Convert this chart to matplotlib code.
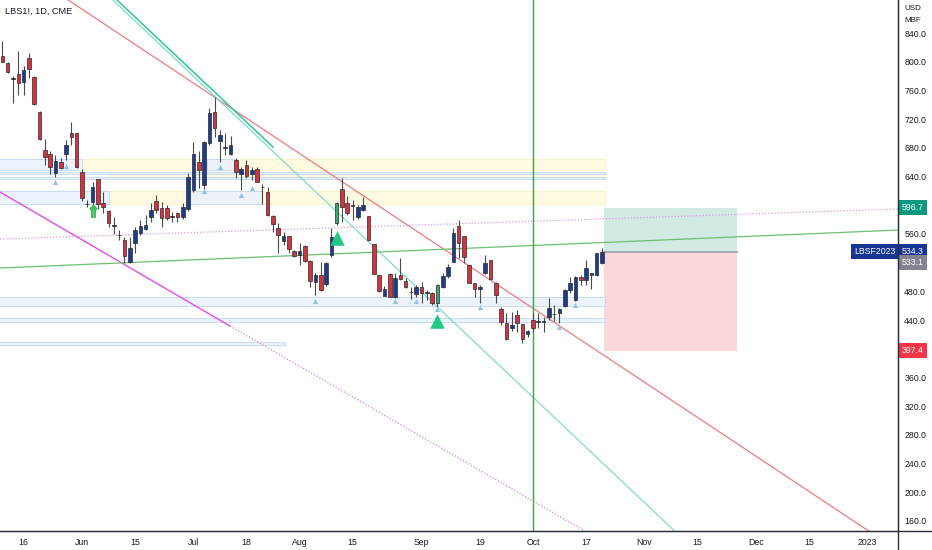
import matplotlib
matplotlib.use("Agg")
import matplotlib.pyplot as plt
from matplotlib.lines import Line2D
from matplotlib.patches import Rectangle
import numpy as np
import pandas as pd

plt.rcParams['font.family'] = ['Liberation Sans', 'DejaVu Sans']

# Daily bars LBS1! (CME lumber), 10 May 2022 .. 20 Oct 2022
opens = [808, 797.7, 777, 783, 772, 805.2, 779, 730, 677, 671, 645.3, 660.2, 671.3, 700.2, 700.2,
         645.8, 601.7, 604.9, 636.1, 602.6, 592.4, 571.2, 558.6, 551.5, 520.4, 547.8, 561, 566.6,
         583.1, 606, 595.6, 595.6, 584.3, 588.7, 583.1, 594.2, 621.2, 660.7, 628.2, 686.2, 730.4,
         689.9, 680.5, 671.4, 663, 643.5, 656, 643.5, 650, 625.2, 618.9, 585, 567.8, 550.6, 557,
         536.6, 531, 543.1, 522.7, 493.4, 502.7, 490.2, 530.6, 574.7, 622.1, 603.5, 599.2, 583.1,
         593.3, 585, 545.9, 502.7, 474.1, 504.1, 472.5, 502.7, 494.8, 478.9, 476.2, 486.5, 478.4,
         478.1, 464.2, 485.5, 501.3, 521.3, 571, 557, 516.6, 491, 483.4, 505, 523.6, 492, 454.8,
         435.3, 428.3, 446.9, 434.4, 420.4, 440, 437.9, 437.9, 443.6, 448.1, 450.2, 459.5, 481.8,
         467.8, 500.3, 495.7, 502.7, 502.7, 519]
highs = [829, 800, 780, 815.4, 794, 812.6, 780, 731, 691.8, 676, 670, 666.2, 690.9, 716.4, 701,
         651, 607, 632.8, 637, 618.9, 593, 584.2, 565.6, 556.3, 555.4, 570.3, 579.5, 586.5,
         602.6, 614, 604.9, 600, 591, 591, 603.5, 644.4, 688.5, 676, 690, 735, 751.3,
         704.8, 700.2, 696.4, 665.3, 652.8, 663, 652.8, 652.8, 629.5, 625.8, 586.3, 575.6, 563.1, 557.5,
         537.5, 546.8, 544.5, 523, 505, 521.3, 521.3, 567.8, 605, 637.4, 612.8, 607.2, 600.3,
         611.9, 585.5, 546.5, 503, 488, 505, 505, 526, 498, 486.5, 488.8, 493.4, 481.8,
         479.5, 490, 505, 518, 567.8, 579.3, 557.5, 517, 491.5, 488.7, 530.5, 524, 492.5, 457.6,
         449.2, 451.5, 453.9, 434.8, 426, 450.2, 449.2, 444.6, 470.2, 460.9, 456.2, 482.7, 499.4,
         501.3, 502.7, 523.6, 505.5, 533.8, 539.8]
lows = [799, 783.7, 742, 753.6, 753.6, 776.8, 740, 691, 656, 643.5, 638.9, 650, 663, 683.9, 651.4,
        606.4, 597.6, 597.6, 595, 588.5, 569.3, 560, 552, 520, 519, 533.9, 558.6, 565,
        577.1, 589.6, 570.1, 579.4, 577, 577, 580.3, 592, 618, 623.5, 618.9, 684, 695.5,
        660.7, 670, 670, 637.4, 621.2, 637.4, 635.1, 632, 601.7, 585, 563.1, 532.9, 544.5, 532.9,
        528.3, 516.6, 521.3, 486.5, 474.8, 480.9, 487.4, 528.3, 573, 577, 586.3, 579.4, 580.3,
        592.4, 551, 503.5, 479.5, 474, 472, 471, 495.7, 484, 468.8, 472.5, 464.2, 467.9,
        460.9, 458.6, 484.1, 498, 520.5, 525.9, 519, 491, 472.5, 464.1, 504, 496, 463.2, 433,
        412, 425.1, 423.7, 407.4, 416.7, 423.7, 428.3, 423.7, 439.9, 439, 435.3, 457.6, 477.1,
        466.8, 488.7, 488.7, 482.7, 502, 518]
closes = [800, 786, 776.5, 770, 788.4, 789.4, 741, 692, 667.6, 652.8, 661.6, 651.9, 683.9, 695.5, 653.7,
          609.6, 601.2, 624.9, 601.7, 597.6, 574.8, 570.8, 558.2, 529.2, 539.9, 565.6, 571.2, 572.6,
          593.3, 593.3, 581.7, 581.7, 584, 583.1, 597, 639.8, 671.4, 649.1, 688.5, 728, 707.1,
          697.8, 680.2, 683.9, 646.7, 650, 640.7, 649, 632.8, 624.9, 586.3, 573.8, 558, 557, 538.5,
          529.2, 536.2, 522.7, 494.8, 502.7, 481.8, 519.9, 555.2, 602.6, 598, 589.6, 598.9, 598,
          600.3, 551.5, 504.1, 480.4, 483.4, 472.5, 498, 496.7, 486.5, 478.6, 485.5, 478.1, 478.1,
          464.2, 488.8, 501.3, 513.4, 561.7, 547.7, 527.3, 492, 482.7, 485.7, 518.9, 496.6, 474.8, 437.6,
          413, 433, 435.3, 413, 425.1, 428.3, 437.6, 437.6, 456.2, 447.8, 454.8, 481.8, 491,
          500.3, 495.7, 512, 505, 532.9, 534.3]

signal_bars = [63, 82]  # bars painted green by the indicator

holidays = ['2022-05-30', '2022-06-20', '2022-07-04', '2022-09-05', '2022-11-24', '2022-12-26', '2023-01-02']
dates = pd.bdate_range('2022-05-10', periods=175, freq='C', holidays=holidays)

tick_dates = ['2022-05-16', '2022-06-01', '2022-06-15', '2022-07-01', '2022-07-18', '2022-08-01',
              '2022-08-15', '2022-09-01', '2022-09-19', '2022-10-03', '2022-10-17', '2022-11-01',
              '2022-11-15', '2022-12-01', '2022-12-15', '2023-01-03']
tick_labels = ['16', 'Jun', '15', 'Jul', '18', 'Aug', '15', 'Sep', '19', 'Oct', '17', 'Nov',
               '15', 'Dec', '15', '2023']
price_ticks = [160, 200, 240, 280, 320, 360, 440, 480, 560, 640, 680, 720, 760, 800, 840]

# drawn trend lines: (bar, price) anchors
red_line = [(12.4, 886.0), (163.3, 145.9)]
teal_line = [(20.8, 886.0), (126.7, 145.9)]
teal_seg = [(21.6, 886.0), (51.0, 681.1)]
magenta_solid = [(-0.45, 618.4), (42.9, 431.6)]
magenta_dotted = [(42.9, 431.6), (109.8, 145.9)]
pink_dotted = [(-0.45, 552.9), (168.8, 594.7)]
green_line = [(-0.45, 512.5), (168.8, 565.4)]
vline_date = '2022-10-03'

# supply / demand zones: (bar start, bar end, top, bottom)
blue_zones = [(-1, 15, 664, 649), (-1, 113.5, 646.5, 644), (-1, 113.5, 639.5, 636.5),
              (-1, 20, 620, 602), (35, 49, 620, 602), (38.5, 44, 664, 649),
              (-1, 113.5, 472.5, 460), (-1, 113.5, 442.4, 437.6), (-1, 53.3, 409, 405)]
yellow_zones = [(15, 113.5, 664, 649), (20, 113.5, 646.5, 636.5), (20, 113.5, 620, 602),
                (94, 106, 472, 460)]

# small pivot triangles under bars: (bar, price)
pivot_bars = [12, 10, 41, 38, 45, 47, 59, 74, 78, 82, 90, 105, 108]
pivot_prices = [654.6, 632.7, 653.7, 619.8, 614.2, 623.4, 467, 467, 466, 456, 457.6, 429.8, 460.5]
signal_tri_bars = [63, 82]
signal_tri_prices = [554.3, 439]
arrow_bar, arrow_price = 17, 592

# long position tool
entry, target, stop = 534.3, 596.7, 397.4
settle = 533.1
pos_start, pos_len = 113.4, 25

fig = plt.figure(figsize=(9.32, 5.5), dpi=100)
ax = fig.add_axes([0, 19 / 550, 898 / 932, 531 / 550])
ax.set_xlim(-0.45, 168.8)
ax.set_ylim(146, 886)

for x0, x1, top, bot in yellow_zones:
    ax.add_patch(Rectangle((x0, bot), x1 - x0, top - bot, fc='#fffae0', ec='#fff0b8', lw=0.6, zorder=1))
for x0, x1, top, bot in blue_zones:
    ax.add_patch(Rectangle((x0, bot), x1 - x0, top - bot, fc='#eaf2fb', ec='#b9d5f1', lw=0.6,
                           alpha=0.9, zorder=1.1))

# position tool
ax.add_patch(Rectangle((pos_start, entry), pos_len, target - entry, fc='#d1ebe4', ec='none', zorder=1))
ax.add_patch(Rectangle((pos_start, stop), pos_len, entry - stop, fc='#fbd6da', ec='none', zorder=1))
ax.plot([pos_start, pos_start + pos_len], [entry, entry], color='#a0a3ab', lw=1.3, zorder=1.5)

def seg(pts, **kw):
    ax.plot([p[0] for p in pts], [p[1] for p in pts], **kw)

seg(red_line, color='#f07a80', lw=0.9, zorder=2)
seg(teal_line, color='#6fdcc4', lw=0.8, zorder=2)
seg(teal_seg, color='#2ec79a', lw=1.1, zorder=2)
seg(magenta_solid, color='#e04ef0', lw=1.0, zorder=2)
seg(magenta_dotted, color='#d77ee6', lw=0.9, ls=(0, (1, 1.5)), zorder=2)
seg(pink_dotted, color='#dc96ea', lw=0.9, ls=(0, (1, 1.5)), zorder=2)
seg(green_line, color='#6cbf6e', lw=0.9, zorder=2)
vx = dates.get_loc(pd.Timestamp(vline_date))
ax.axvline(vx, color='#3aa43f', lw=1.0, zorder=2)

# candles
xs = np.arange(len(opens))
for i in xs:
    o, h, l, c = opens[i], highs[i], lows[i], closes[i]
    if i in signal_bars:
        fc = '#3aa86e'
    elif abs(c - o) < 1:
        fc = '#222222'
    elif c > o:
        fc = '#1d3c8f'
    else:
        fc = '#d3323f'
    ax.vlines(i, l, h, color='#4a4a4a', lw=0.8, zorder=3)
    ax.bar(i, max(abs(c - o), 1.0), bottom=min(o, c), width=0.68, color=fc,
           edgecolor='#2b2b2b', lw=0.5, zorder=4)

ax.scatter(pivot_bars, pivot_prices, marker='^', s=14, color='#93bff0', zorder=4, lw=0)
ax.scatter(signal_tri_bars, signal_tri_prices, marker='^', s=110, color='#22c985', zorder=4, lw=0)
ax.scatter([arrow_bar], [arrow_price], marker=r'$\Uparrow$', s=70, color='#3cbf5a', zorder=4)

# axes styling
for s in ['top', 'left']:
    ax.spines[s].set_visible(False)
ax.spines['right'].set_color('#2a2e39')
ax.spines['bottom'].set_color('#2a2e39')
fig.add_artist(Line2D([898 / 932, 898 / 932], [0, 1], color='#2a2e39', lw=1.0))
fig.add_artist(Line2D([0, 1], [19 / 550, 19 / 550], color='#2a2e39', lw=1.0))

ax.yaxis.tick_right()
ax.set_yticks(price_ticks)
ax.set_yticklabels([f'{v:.1f}' for v in price_ticks])
ax.set_xticks([dates.get_loc(pd.Timestamp(d)) for d in tick_dates])
ax.set_xticklabels(tick_labels)
ax.tick_params(axis='y', length=0, pad=4.5, labelsize=6.3, labelcolor='#131722')
ax.tick_params(axis='x', length=0, pad=5, labelsize=6.3, labelcolor='#131722')

ytr = ax.get_yaxis_transform()
lab = dict(transform=ytr, va='center', fontsize=6.3, color='white', clip_on=False, zorder=6)
ax.text(1.004, target, f'{target:.1f}', ha='left',
        bbox=dict(boxstyle='square,pad=0.35', fc='#089981', ec='none'), **lab)
ax.text(1.004, entry + 1.5, f'{entry:.1f}', ha='left',
        bbox=dict(boxstyle='square,pad=0.35', fc='#163594', ec='none'), **lab)
ax.text(0.997, entry + 1.5, 'LBSF2023', ha='right',
        bbox=dict(boxstyle='square,pad=0.35', fc='#163594', ec='none'), **lab)
ax.text(1.004, settle - 13, f'{settle:.1f}', ha='left',
        bbox=dict(boxstyle='square,pad=0.35', fc='#82858f', ec='none'), **lab)
ax.text(1.004, stop, f'{stop:.1f}', ha='left',
        bbox=dict(boxstyle='square,pad=0.35', fc='#f23645', ec='none'), **lab)

fig.text(5 / 932, 1 - 11 / 550, 'LBS1!, 1D, CME', fontsize=6.6, color='#131722', va='center', ha='left')
fig.text(904 / 932, 1 - 9 / 550, 'USD', fontsize=5.8, color='#131722', va='center', ha='left')
fig.text(904 / 932, 1 - 20 / 550, 'MBF', fontsize=5.8, color='#131722', va='center', ha='left')

fig.savefig('out.png', dpi=100)
